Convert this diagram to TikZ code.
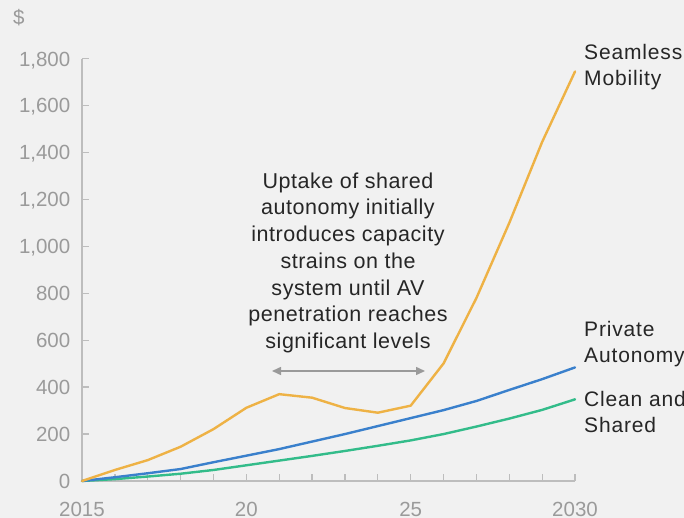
\documentclass[tikz,border=0pt]{standalone}
\usepackage{fontspec}
\setmainfont{Liberation Sans}
\newfontfamily\annotfont[LetterSpace=2.5]{Liberation Sans}
\newfontfamily\labfont[LetterSpace=4]{Liberation Sans}
\usetikzlibrary{arrows.meta}
\definecolor{bgc}{HTML}{F1F1F1}
\definecolor{axisc}{HTML}{BDBDBD}
\definecolor{tickc}{HTML}{9A9A9A}
\definecolor{txtc}{HTML}{262626}
\definecolor{orangec}{HTML}{EEB245}
\definecolor{bluec}{HTML}{3A80CC}
\definecolor{greenc}{HTML}{33BC8A}
\definecolor{arrowc}{HTML}{9A9A9A}
\begin{document}
\begin{tikzpicture}[x=1pt,y=-1pt,
  axisline/.style={draw=axisc,line width=1.3pt},
  ticklabel/.style={text=tickc,font=\fontsize{20.5}{24}\selectfont,inner sep=0pt},
  serieslabel/.style={text=txtc,font=\labfont\fontsize{21}{26.5}\selectfont,align=left,inner sep=0pt,anchor=north west},
  annot/.style={text=txtc,font=\annotfont\fontsize{21.5}{26.7}\selectfont,align=center,inner sep=0pt,anchor=north},
  series/.style={line width=2.4pt,line join=round,line cap=round}]
\useasboundingbox (0,0) rectangle (684,518);
\fill[bgc] (0,0) rectangle (684,518);

% axes
\coordinate (ytop) at (82,58.6);
\coordinate (orig) at (82,481);
\coordinate (xend) at (575,481);
\draw[axisline] (ytop) -- (orig) -- (xend);
\foreach \i in {0,...,9}{
  \draw[axisline] (82,481-46.94*\i) -- (89,481-46.94*\i);
}
\foreach \i in {1,...,15}{
  \draw[axisline] (82+32.87*\i,481) -- (82+32.87*\i,474);
}

% y tick labels
\node[ticklabel,anchor=base west] (dollar) at (13,25) {\$};
\foreach \v [count=\i from 0] in {0,200,400,600,800,{1,000},{1,200},{1,400},{1,600},{1,800}}{
  \node[ticklabel,anchor=base east] (yl\i) at (70.5,481-46.94*\i+7.5) {\v};
}
% x tick labels
\node[ticklabel,anchor=base] (x2015) at (82,516) {2015};
\node[ticklabel,anchor=base] (x2020) at (246.3,516) {20};
\node[ticklabel,anchor=base] (x2025) at (410.7,516) {25};
\node[ticklabel,anchor=base] (x2030) at (575,516) {2030};

% data series
\begin{scope}[shift={(82,481)},x=32.87pt,y=0.2347pt]
\draw[series,greenc] plot coordinates {(0,0) (1,8) (2,19) (3,31) (4,47) (5,67) (6,87) (7,107) (8,128) (9,150) (10,173) (11,200) (12,232) (13,266) (14,303) (15,348)};
\draw[series,bluec] plot coordinates {(0,0) (1,16) (2,33) (3,51) (4,80) (5,108) (6,136) (7,168) (8,200) (9,234) (10,268) (11,302) (12,341) (13,388) (14,434) (15,484)};
\draw[series,orangec] plot coordinates {(0,0) (1,47) (2,89) (3,146) (4,221) (5,312) (6,370) (7,355) (8,311) (9,291) (10,321) (11,501) (12,780) (13,1100) (14,1445) (15,1745)};
\end{scope}

% series labels
\node[serieslabel] (lseam) at (584,44) {Seamless\\Mobility};
\node[serieslabel] (lpriv) at (584,321) {Private\\Autonomy};
\node[serieslabel] (lclean) at (584,391) {Clean and\\Shared};

% annotation
\node[annot] (note) at (348,172.5) {Uptake of shared\\autonomy initially\\introduces capacity\\strains on the\\system until AV\\penetration reaches\\significant levels};
\coordinate (arrL) at (272,371);
\coordinate (arrR) at (425,371);
\draw[arrowc,line width=1.5pt,{Triangle[length=9pt,width=8pt]}-{Triangle[length=9pt,width=8pt]}] (arrL) -- (arrR);
\end{tikzpicture}
\end{document}
